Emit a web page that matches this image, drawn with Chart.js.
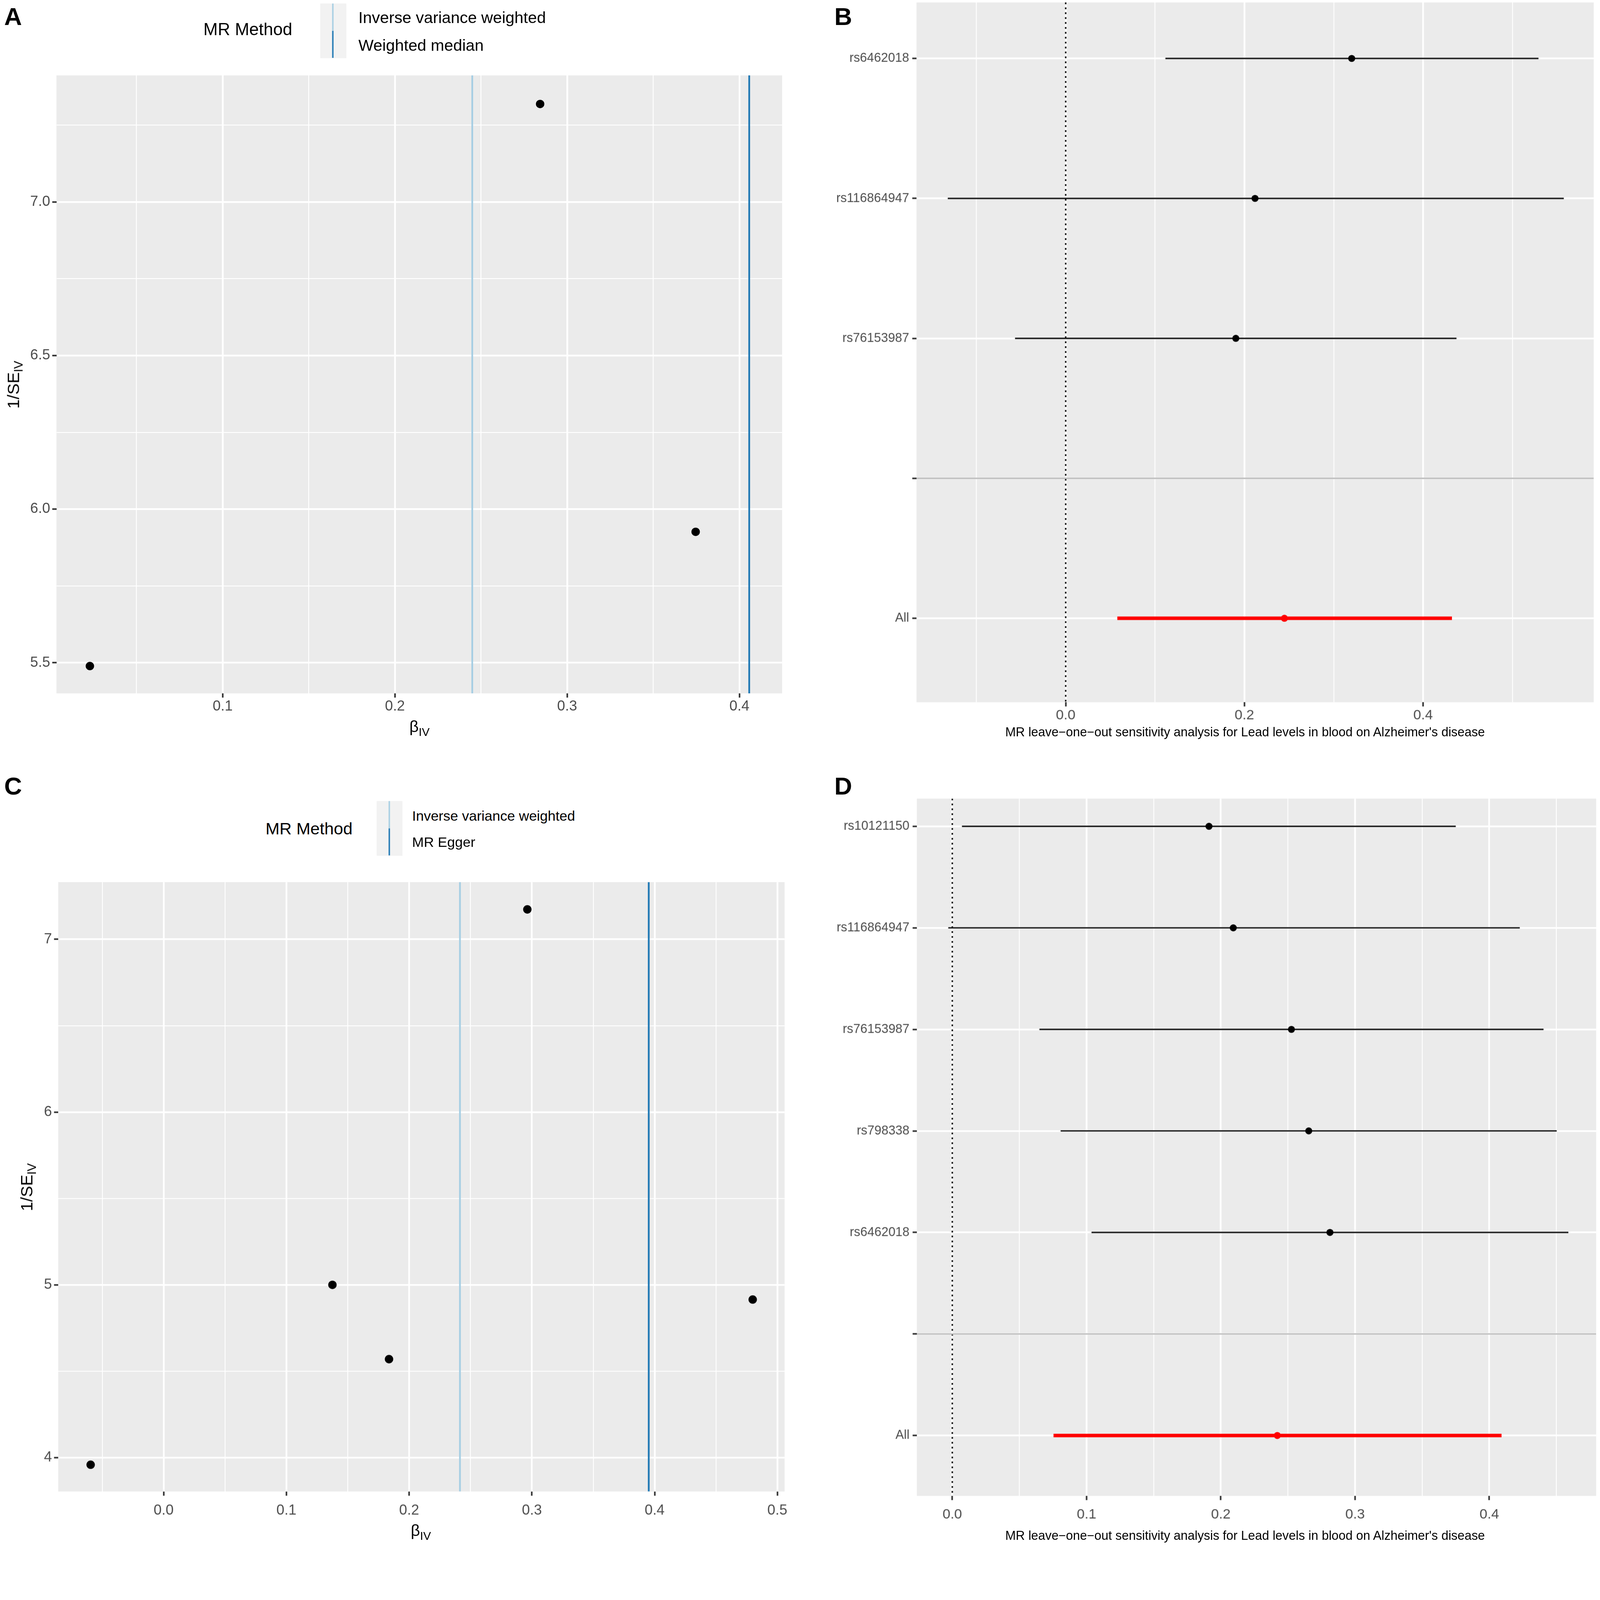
<!DOCTYPE html>
<html><head><meta charset="utf-8">
<script src="https://cdn.jsdelivr.net/npm/chart.js@4.4.1/dist/chart.umd.min.js"></script>
<style>
html,body{margin:0;padding:0;background:#fff;overflow:hidden;}
body{font-family:"Liberation Sans",Arial,Helvetica,sans-serif;}
#page{position:absolute;left:0;top:0;width:4562px;height:4411px;transform-origin:0 0;overflow:hidden;background:#fff;}
canvas{position:absolute;}
.t{position:absolute;white-space:nowrap;line-height:1;color:#000;}
.b{font-weight:bold;}
.sub{font-size:0.72em;position:relative;top:0.32em;}
.key{position:absolute;background:#F2F2F2;}
.kl{position:absolute;}
</style></head><body>
<div id="page">
<canvas id="cA" style="left:0px;top:0px;width:2290px;height:2150px"></canvas>
<canvas id="cB" style="left:2300px;top:-100px;width:2262px;height:2200px"></canvas>
<canvas id="cC" style="left:0px;top:2400px;width:2290px;height:2011px"></canvas>
<canvas id="cD" style="left:2300px;top:2200px;width:2262px;height:2211px"></canvas>

<!-- panel letters -->
<div class="t b" style="font-size:70px;left:12px;top:12px">A</div>
<div class="t b" style="font-size:70px;left:2379px;top:12px">B</div>
<div class="t b" style="font-size:70px;left:12px;top:2206px">C</div>
<div class="t b" style="font-size:70px;left:2379px;top:2206px">D</div>

<!-- legend A -->
<div class="t" style="font-size:49px;left:580px;top:59px">MR Method</div>
<div class="key" style="left:913px;top:10px;width:74px;height:155px"></div>
<div class="kl" style="left:947px;top:10px;width:4px;height:78px;background:#A6CEE3"></div>
<div class="kl" style="left:947px;top:88px;width:4px;height:77px;background:#1F78B4"></div>
<div class="t" style="font-size:46px;left:1022px;top:27px">Inverse variance weighted</div>
<div class="t" style="font-size:46px;left:1022px;top:106px">Weighted median</div>

<!-- legend C -->
<div class="t" style="font-size:48px;left:757px;top:2339px">MR Method</div>
<div class="key" style="left:1074px;top:2284px;width:73px;height:155px"></div>
<div class="kl" style="left:1108px;top:2284px;width:4px;height:78px;background:#A6CEE3"></div>
<div class="kl" style="left:1108px;top:2362px;width:4px;height:77px;background:#1F78B4"></div>
<div class="t" style="font-size:40px;left:1175px;top:2306px">Inverse variance weighted</div>
<div class="t" style="font-size:40px;left:1175px;top:2381px">MR Egger</div>

<!-- axis titles -->
<div class="t" style="font-size:46px;left:1196px;top:2048px;transform:translateX(-50%)">β<span class="sub">IV</span></div>
<div class="t" style="font-size:48px;left:38px;top:1097px;transform:translate(-50%,-50%) rotate(-90deg)">1/SE<span class="sub">IV</span></div>
<div class="t" style="font-size:46px;left:1200px;top:4340px;transform:translateX(-50%)">β<span class="sub">IV</span></div>
<div class="t" style="font-size:48px;left:76px;top:3385px;transform:translate(-50%,-50%) rotate(-90deg)">1/SE<span class="sub">IV</span></div>
<div class="t" style="font-size:36px;left:3550px;top:2069px;transform:translateX(-50%)">MR leave−one−out sensitivity analysis for Lead levels in blood on Alzheimer's disease</div>
<div class="t" style="font-size:36px;left:3550px;top:4360px;transform:translateX(-50%)">MR leave−one−out sensitivity analysis for Lead levels in blood on Alzheimer's disease</div>
</div>

<script>
// ---------------- Data ----------------
// Panel A: funnel plot (3 SNPs)
const aBeta   = [0.0229, 0.2843, 0.3746];
const aInvSE  = [5.489, 7.319, 5.926];
const aIVW    = 0.2449;
const aWM     = 0.4057;
const aXTicks = [0.1, 0.2, 0.3, 0.4];
const aXTickLabels = ['0.1', '0.2', '0.3', '0.4'];
const aXMinor = [0.05, 0.15, 0.25, 0.35];
const aYTicks = [5.5, 6.0, 6.5, 7.0];
const aYTickLabels = ['5.5', '6.0', '6.5', '7.0'];
const aYMinor = [5.75, 6.25, 6.75, 7.25];
const aXRange = [0.0035, 0.4248];
const aYRange = [5.40, 7.412];

// Panel B: leave-one-out (3 SNPs)
const bSNPs  = ['rs6462018', 'rs116864947', 'rs76153987', '', 'All'];
const bBeta  = [0.3201, 0.2119, 0.1904, null, 0.2448];
const bLower = [0.1116, -0.132, -0.0567, null, 0.0578];
const bUpper = [0.5292, 0.5575, 0.4374, null, 0.4323];
const bXTicks = [0.0, 0.2, 0.4];
const bXTickLabels = ['0.0', '0.2', '0.4'];
const bXMinor = [-0.1, 0.1, 0.3, 0.5];
const bXRange = [-0.167, 0.591];
const bYRange = [0.6, 5.6];

// Panel C: funnel plot (5 SNPs)
const cBeta   = [-0.0595, 0.1375, 0.1836, 0.2963, 0.4799];
const cInvSE  = [3.959, 5.0, 4.570, 7.173, 4.915];
const cIVW    = 0.2414;
const cEgger  = 0.3952;
const cXTicks = [0.0, 0.1, 0.2, 0.3, 0.4, 0.5];
const cXTickLabels = ['0.0', '0.1', '0.2', '0.3', '0.4', '0.5'];
const cXMinor = [-0.05, 0.05, 0.15, 0.25, 0.35, 0.45];
const cYTicks = [4, 5, 6, 7];
const cYTickLabels = ['4', '5', '6', '7'];
const cYMinor = [4.5, 5.5, 6.5];
const cXRange = [-0.0859, 0.5059];
const cYRange = [3.804, 7.331];

// Panel D: leave-one-out (5 SNPs)
const dSNPs  = ['rs10121150', 'rs116864947', 'rs76153987', 'rs798338', 'rs6462018', '', 'All'];
const dBeta  = [0.1912, 0.2093, 0.2526, 0.2655, 0.2813, null, 0.2421];
const dLower = [0.0072, -0.003, 0.0649, 0.0807, 0.1037, null, 0.0754];
const dUpper = [0.375, 0.4227, 0.4404, 0.4502, 0.4589, null, 0.4091];
const dXTicks = [0.0, 0.1, 0.2, 0.3, 0.4];
const dXTickLabels = ['0.0', '0.1', '0.2', '0.3', '0.4'];
const dXMinor = [0.05, 0.15, 0.25, 0.35, 0.45];
const dXRange = [-0.0264, 0.4796];
const dYRange = [0.727, 7.595];

const nullEffect = 0;

// ---------------- Page scaling ----------------
const W = 4562, H = 4411;
const fit = Math.min(window.innerWidth / W, window.innerHeight / H);
document.getElementById('page').style.transform = 'scale(' + fit + ')';
const DPR = (window.devicePixelRatio || 1) * fit;

// ---------------- Helpers ----------------
const FONT = '"Liberation Sans", Arial, Helvetica, sans-serif';
Chart.defaults.font.family = FONT;

const bgPlugin = {
  id: 'panelBg',
  beforeDraw(chart) {
    const {ctx, chartArea: a} = chart;
    ctx.save();
    ctx.fillStyle = '#EBEBEB';
    ctx.fillRect(a.left, a.top, a.right - a.left, a.bottom - a.top);
    ctx.restore();
  }
};

function linAxis(o) {
  const majors = o.major, minors = o.minor || [];
  const all = majors.concat(minors).slice().sort((p, q) => p - q);
  const near = (p, q) => Math.abs(p - q) < 1e-9;
  const isMajor = v => majors.some(m => near(m, v));
  const labelOf = v => { const i = majors.findIndex(m => near(m, v)); return i >= 0 ? o.labels[i] : ''; };
  return {
    type: 'linear', position: o.position, min: o.min, max: o.max, reverse: !!o.reverse,
    afterBuildTicks(s) { s.ticks = all.map(v => ({value: v})); },
    afterFit(s) { if (o.position === 'bottom') s.height = o.size; else s.width = o.size; },
    border: {display: false},
    grid: {
      drawOnChartArea: true, drawTicks: true, tickLength: 12,
      color: '#FFFFFF',
      lineWidth: c => (c.tick && isMajor(c.tick.value)) ? 5 : 2.5,
      tickColor: c => (c.tick && isMajor(c.tick.value)) ? '#333333' : 'rgba(0,0,0,0)',
      tickWidth: 4.5
    },
    ticks: {
      autoSkip: false, maxRotation: 0, minRotation: 0, padding: o.pad,
      color: '#4D4D4D', font: {family: FONT, size: o.fontSize},
      callback: v => labelOf(v)
    }
  };
}

function baseOptions(padding, scales) {
  return {
    responsive: false, maintainAspectRatio: false, devicePixelRatio: DPR, animation: false, events: [],
    layout: {padding: padding},
    plugins: {legend: {display: false}, tooltip: {enabled: false}},
    scales: scales
  };
}

function prepCanvas(id) {
  const c = document.getElementById(id);
  c.width = parseFloat(c.style.width);
  c.height = parseFloat(c.style.height);
  return c;
}

function funnelChart(id, beta, invse, lines, xr, yr, xt, xl, xm, yt, yl, ym, pad, ySize, xSize, xPad) {
  const ds = [{
    data: beta.map((b, i) => ({x: b, y: invse[i]})),
    pointRadius: 12, pointBackgroundColor: '#000000', pointBorderWidth: 0, order: 0
  }];
  lines.forEach(l => ds.push({
    data: [{x: l.value, y: yr[0]}, {x: l.value, y: yr[1]}],
    showLine: true, borderColor: l.color, borderWidth: 5, pointRadius: 0, order: 1
  }));
  return new Chart(prepCanvas(id), {
    type: 'scatter',
    data: {datasets: ds},
    options: baseOptions(pad, {
      x: linAxis({position: 'bottom', min: xr[0], max: xr[1], major: xt, labels: xl, minor: xm, size: xSize, pad: xPad, fontSize: 41}),
      y: linAxis({position: 'left', min: yr[0], max: yr[1], major: yt, labels: yl, minor: ym, size: ySize, pad: 6, fontSize: 41})
    }),
    plugins: [bgPlugin]
  });
}

function forestChart(id, snps, beta, lo, hi, xr, yr, xt, xl, xm, pad, ySize, xSize, xPad) {
  const rows = snps.map((s, i) => i + 1);
  const ds = [];
  ds.push({
    data: snps.map((s, i) => beta[i] == null ? null : {x: beta[i], y: rows[i], all: s === 'All'}).filter(Boolean),
    pointRadius: 10, pointBorderWidth: 0,
    pointBackgroundColor: c => (c.raw && c.raw.all) ? '#FF0000' : '#000000',
    order: 0
  });
  snps.forEach((s, i) => {
    if (beta[i] == null) return;
    ds.push({
      data: [{x: lo[i], y: rows[i]}, {x: hi[i], y: rows[i]}],
      showLine: true, borderColor: s === 'All' ? '#FF0000' : '#1A1A1A',
      borderWidth: s === 'All' ? 10 : 4, pointRadius: 0, order: 2
    });
  });
  // dotted null-effect line
  ds.push({
    data: [{x: nullEffect, y: yr[0]}, {x: nullEffect, y: yr[1]}],
    showLine: true, borderColor: '#000000', borderWidth: 4, borderDash: [5, 9], pointRadius: 0, order: 3
  });
  // grey separator at the blank row
  snps.forEach((s, i) => {
    if (s !== '') return;
    ds.push({
      data: [{x: xr[0], y: rows[i]}, {x: xr[1], y: rows[i]}],
      showLine: true, borderColor: '#BEBEBE', borderWidth: 4, pointRadius: 0, order: 1
    });
  });
  return new Chart(prepCanvas(id), {
    type: 'scatter',
    data: {datasets: ds},
    options: baseOptions(pad, {
      x: linAxis({position: 'bottom', min: xr[0], max: xr[1], major: xt, labels: xl, minor: xm, size: xSize, pad: xPad, fontSize: 40}),
      y: linAxis({position: 'left', min: yr[0], max: yr[1], reverse: true, major: rows, labels: snps, minor: [], size: ySize, pad: 9, fontSize: 36})
    }),
    plugins: [bgPlugin]
  });
}

// ---------------- Charts ----------------
funnelChart('cA', aBeta, aInvSE,
  [{value: aIVW, color: '#A6CEE3'}, {value: aWM, color: '#1F78B4'}],
  aXRange, aYRange, aXTicks, aXTickLabels, aXMinor, aYTicks, aYTickLabels, aYMinor,
  {top: 215, right: 60, left: 0, bottom: 0}, 161, 173, 1);

forestChart('cB', bSNPs, bBeta, bLower, bUpper, bXRange, bYRange, bXTicks, bXTickLabels, bXMinor,
  {top: 107, right: 19, left: 0, bottom: 0}, 313, 98, 2);

funnelChart('cC', cBeta, cInvSE,
  [{value: cIVW, color: '#A6CEE3'}, {value: cEgger, color: '#1F78B4'}],
  cXRange, cYRange, cXTicks, cXTickLabels, cXMinor, cYTicks, cYTickLabels, cYMinor,
  {top: 115, right: 53, left: 0, bottom: 0}, 166, 159, 18);

forestChart('cD', dSNPs, dBeta, dLower, dUpper, dXRange, dYRange, dXTicks, dXTickLabels, dXMinor,
  {top: 77, right: 12, left: 0, bottom: 0}, 314, 146, 18);
</script>
</body></html>
